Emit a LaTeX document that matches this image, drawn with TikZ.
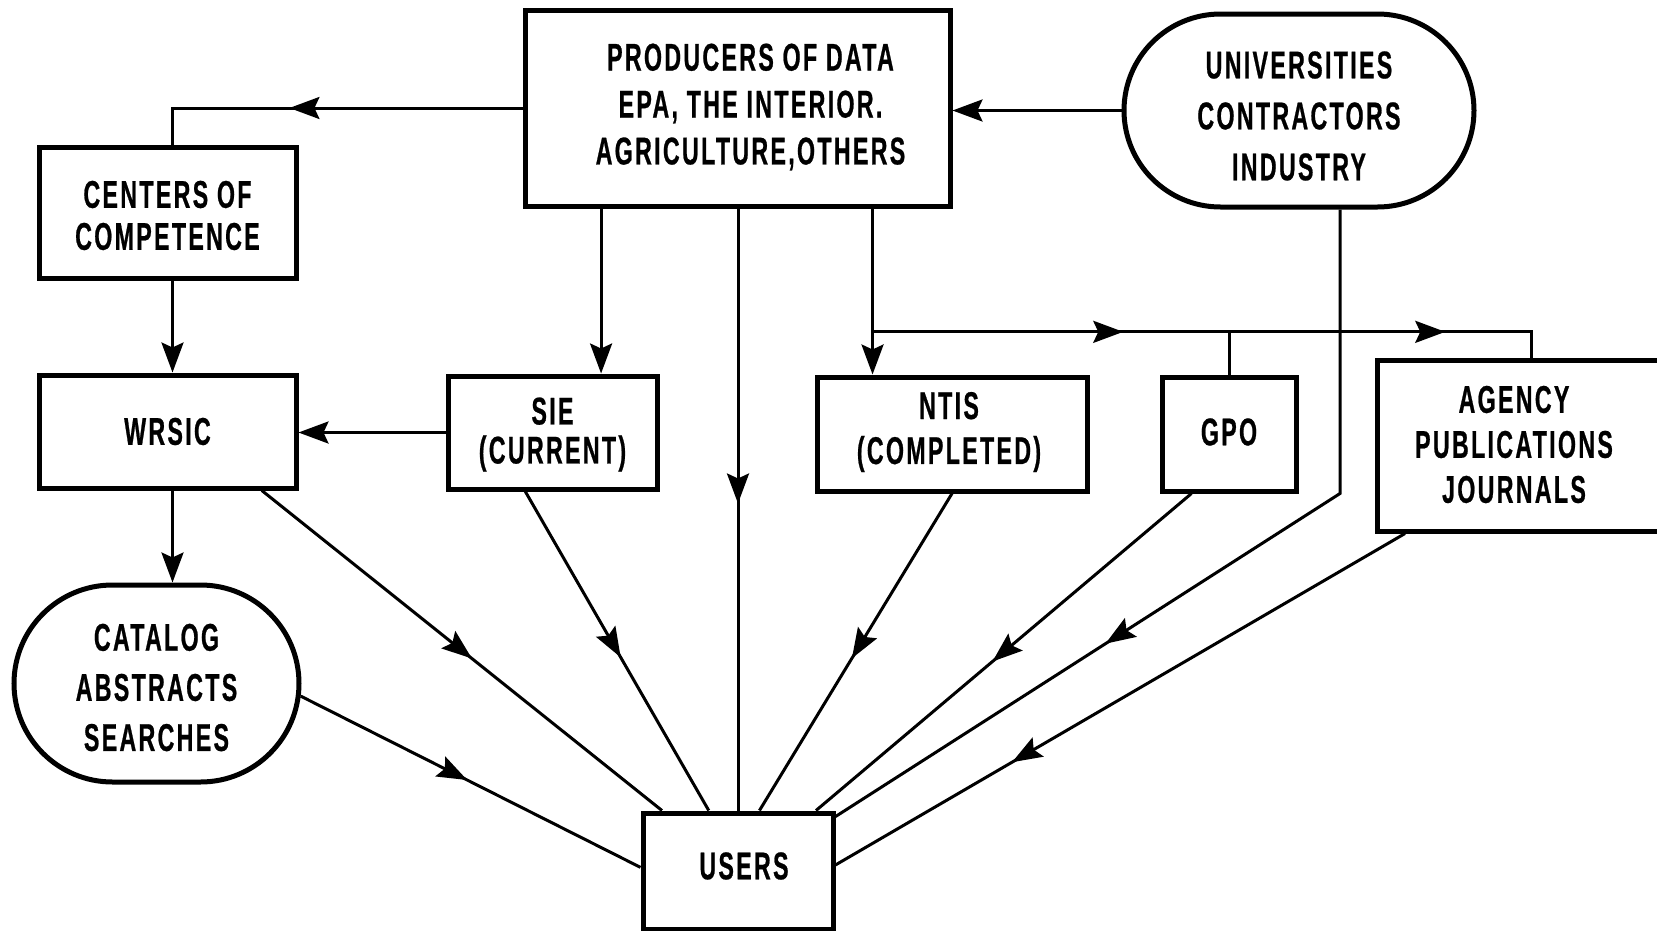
\documentclass[tikz,border=0pt]{standalone}
\usepackage{fontspec}
\setmainfont{Liberation Sans}[FakeStretch=0.6, LetterSpace=6, BoldFeatures={FakeBold=0.6}]
\usetikzlibrary{arrows.meta,shapes.misc,calc,decorations.markings}
\tikzset{
  box/.style={draw, line width=0.1cm, inner sep=0pt, align=center},
  lbl/.style={font=\bfseries\fontsize{22pt}{#1}\selectfont, align=center, inner sep=0pt},
  conn/.style={line width=0.06cm},
  arr/.style={conn, -{Stealth[length=0.6cm, width=0.44cm, inset=0.1cm]}},
  midarrow/.style={conn, postaction={decorate}, decoration={markings,
     mark=at position #1 with {\arrow{Stealth[length=0.6cm, width=0.44cm, inset=0.1cm]}}}},
  twoarrows/.style 2 args={conn, postaction={decorate}, decoration={markings,
     mark=at position #1 with {\arrow{Stealth[length=0.6cm, width=0.44cm, inset=0.1cm]}},
     mark=at position #2 with {\arrow{Stealth[length=0.6cm, width=0.44cm, inset=0.1cm]}}}},
}
\begin{document}
\begin{tikzpicture}[x=0.02cm, y=-0.02cm]
\useasboundingbox (0,0) rectangle (1657,930);

% nodes
\node[box, minimum width=425*0.02cm, minimum height=196*0.02cm,
  label={[lbl=26.7pt, xshift=0.26cm, yshift=0.02cm]center:{PRODUCERS OF DATA\\EPA, THE INTERIOR.\\AGRICULTURE,OTHERS}}] (prod) at (737.5,108) {};
\node[box, shape=rounded rectangle, minimum width=350*0.02cm, minimum height=193*0.02cm,
  label={[lbl=29pt, yshift=-0.11cm]center:{UNIVERSITIES\\CONTRACTORS\\INDUSTRY}}] (univ) at (1299,110.5) {};
\node[box, minimum width=257*0.02cm, minimum height=131*0.02cm,
  label={[lbl=23.9pt, yshift=-0.06cm]center:{CENTERS OF\\COMPETENCE}}] (cent) at (167.5,212.5) {};
\node[box, minimum width=257*0.02cm, minimum height=113*0.02cm,
  label={[lbl=24pt]center:WRSIC}] (wrsic) at (167.5,431.5) {};
\node[box, minimum width=209*0.02cm, minimum height=113*0.02cm,
  label={[lbl=22.2pt, yshift=-0.04cm]center:{SIE\\(CURRENT)}}] (sie) at (552.5,432.5) {};
\node[box, minimum width=270*0.02cm, minimum height=114*0.02cm,
  label={[lbl=25.6pt, xshift=-0.06cm, yshift=0.04cm]center:{NTIS\\(COMPLETED)}}] (ntis) at (952,434) {};
\node[box, minimum width=134*0.02cm, minimum height=114*0.02cm,
  label={[lbl=24pt, yshift=0.04cm]center:GPO}] (gpo) at (1229,434) {};
\node[box, minimum width=323*0.02cm, minimum height=171*0.02cm,
  label={[lbl=25.6pt, xshift=-0.49cm, yshift=0.02cm]center:{AGENCY\\PUBLICATIONS\\JOURNALS}}] (agency) at (1538.5,445.5) {};
\node[box, shape=rounded rectangle, minimum width=285*0.02cm, minimum height=197*0.02cm,
  label={[lbl=28.5pt, yshift=-0.08cm]center:{CATALOG\\ABSTRACTS\\SEARCHES}}] (catalog) at (156.5,683.5) {};
\node[box, minimum width=190*0.02cm, minimum height=116*0.02cm,
  label={[lbl=24pt, xshift=0.12cm, yshift=0.1cm]center:USERS}] (users) at (738,871) {};

% helper coordinates
\coordinate (colx) at ($(wrsic.south)+(5,0)$);
\coordinate (sieIn) at ($(sie.north west)!0.727!(sie.north east)$);
\coordinate (ntisIn) at ($(ntis.north west)!0.211!(ntis.north east)$);
\coordinate (br) at ($(prod.south -| ntisIn)!0.743!(ntisIn)$);
\coordinate (agIn) at ($(agency.north west)!0.48!(agency.north east)$);
\coordinate (univOut) at ($(univ.south)+(41,0)$);
\coordinate (uBend) at (univOut |- gpo.south);

% connectors from producers / universities
\draw[midarrow=0.603] (prod.west) -| (cent.north -| colx);
\draw[arr] (univ.west) -- (univ.west -| prod.east);
\draw[arr] (cent.south -| colx) -- (wrsic.north -| colx);
\draw[arr] (sie.west) -- (sie.west -| wrsic.east);
\draw[arr] (prod.south -| sieIn) -- (sieIn);
\draw[arr] (prod.south -| ntisIn) -- (ntisIn);
\draw[midarrow=0.49] (prod.south -| users.north) -- (users.north);
\draw[twoarrows={0.366}{0.836}] (br) -| (agIn);
\draw[conn] (gpo.north) -- (gpo.north |- br);
\draw[arr] (wrsic.south -| colx) -- (catalog.north -| colx);

% connectors to users
\draw[midarrow=0.525] ($(wrsic.south west)!0.86!(wrsic.south east)$) -- ($(users.north west)!0.11!(users.north east)$);
\draw[midarrow=0.49] (catalog.-5) -- ($(users.north west)!0.47!(users.south west)$);
\draw[midarrow=0.52] ($(sie.south west)!0.373!(sie.south east)$) -- ($(users.north west)!0.35!(users.north east)$);
\draw[midarrow=0.52] (ntis.south) -- ($(users.north west)!0.61!(users.north east)$);
\draw[midarrow=0.53] ($(gpo.south west)!0.23!(gpo.south east)$) -- ($(users.north west)!0.9!(users.north east)$);
\draw[midarrow=0.637] (univOut) -- (uBend) -- ($(users.north east)!0.05!(users.south east)$);
\draw[midarrow=0.69] ($(agency.south west)!0.093!(agency.south east)$) -- ($(users.north east)!0.45!(users.south east)$);
\end{tikzpicture}
\end{document}
